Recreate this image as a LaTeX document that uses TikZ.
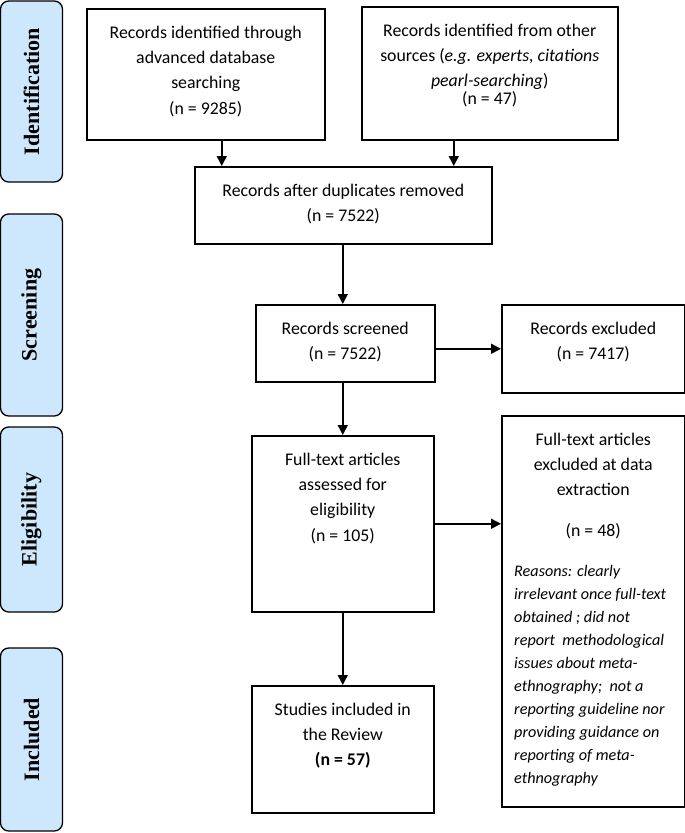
\documentclass[tikz,border=0pt]{standalone}
\usepackage{fontspec}
\setmainfont{Carlito}
\newfontfamily\phasefont{Liberation Serif}
\usetikzlibrary{arrows.meta,positioning}

\definecolor{phaseblue}{RGB}{205,232,253}
\newdimen\pxu
\pxu=0.03cm

\tikzset{
  frame/.style={draw, line width=1.3pt, anchor=north west, inner sep=0pt},
  txt/.style={anchor=north, align=center, inner sep=0pt, yshift=-17.5*\pxu,
    font=\fontsize{15.2}{21.6}\selectfont},
  reason/.style={anchor=north west, align=left, inner sep=0pt,
    font=\fontsize{13.8}{19.6}\selectfont\itshape},
  phase/.style={draw, line width=1.1pt, fill=phaseblue, rounded corners=7pt,
    rotate=90, inner sep=0pt, minimum height=62*\pxu,
    font=\phasefont\bfseries\fontsize{18.8}{22}\selectfont},
  arr/.style={-{Triangle[length=8.5pt,width=8.5pt]}, line width=1.3pt}
}

\begin{document}
\begin{tikzpicture}[x=0.03cm, y=-0.03cm]
  \useasboundingbox (0,0) rectangle (685,833);

  % phases
  \node[phase, minimum width=181*\pxu] (pid)  at (31.5,91.5)  {Identification};
  \node[phase, minimum width=202*\pxu] (pscr) at (31.5,315)   {Screening};
  \node[phase, minimum width=185*\pxu] (pelg) at (31.5,519.5) {Eligibility};
  \node[phase, minimum width=183*\pxu] (pinc) at (31.5,739.5) {Included};

  % boxes
  \node[frame, minimum width=238*\pxu, minimum height=131*\pxu] (b1) at (86,8) {};
  \node[frame, minimum width=256*\pxu, minimum height=133*\pxu] (b2) at (361,6) {};
  \node[frame, minimum width=297*\pxu, minimum height=77*\pxu]  (b3) at (194,166) {};
  \node[frame, minimum width=179*\pxu, minimum height=77*\pxu]  (b4) at (255,304) {};
  \node[frame, minimum width=183*\pxu, minimum height=88*\pxu]  (b5) at (501,304) {};
  \node[frame, minimum width=182*\pxu, minimum height=176*\pxu] (b6) at (251,435) {};
  \node[frame, minimum width=183*\pxu, minimum height=391*\pxu] (b7) at (501,415) {};
  \node[frame, minimum width=182*\pxu, minimum height=127*\pxu] (b8) at (251,685) {};

  % texts
  \node[txt] (t1) at (b1.north) {Records identified through\\advanced database\\searching\\(n = 9285)};
  \node[txt] (t2) at (b2.north) {Records identified from other\\sources (\textit{e.g. experts, citations}\\\textit{pearl-searching})\\[-6pt](n = 47)};
  \node[txt] (t3) at (b3.north) {Records after duplicates removed\\(n = 7522)};
  \node[txt] (t4) at (b4.north) {Records screened\\(n = 7522)};
  \node[txt] (t5) at (b5.north) {Records excluded\\(n = 7417)};
  \node[txt] (t6) at (b6.north) {Full-text articles\\assessed for\\eligibility\\(n = 105)};
  \node[txt] (t7) at (b7.north) {Full-text articles\\excluded at data\\extraction\\[13pt](n = 48)};
  \node[reason] (t7r) at ([xshift=13*\pxu, yshift=-150*\pxu]b7.north west)
    {Reasons: clearly\\irrelevant once full-text\\obtained ; did not\\report\ \ methodological\\issues about meta-\\ethnography;\ \ not a\\reporting guideline nor\\providing guidance on\\reporting of meta-\\ethnography};
  \node[txt] (t8) at (b8.north) {Studies included in\\the Review\\\textbf{(n = 57)}};

  % arrows
  \coordinate (a1) at ([xshift=16*\pxu]b1.south);
  \coordinate (a2) at ([xshift=-36*\pxu]b2.south);
  \coordinate (a4) at (b6.north);
  \draw[arr] (a1) -- (a1 |- b3.north);
  \draw[arr] (a2) -- (a2 |- b3.north);
  \draw[arr] (a4 |- b3.south) -- (a4 |- b4.north);
  \draw[arr] (b5.west -| b4.east) -- (b5.west);
  \draw[arr] (a4 |- b4.south) -- (a4);
  \draw[arr] (b6.east) -- (b6.east -| b7.west);
  \draw[arr] (b6.south) -- (b6.south |- b8.north);
\end{tikzpicture}
\end{document}
